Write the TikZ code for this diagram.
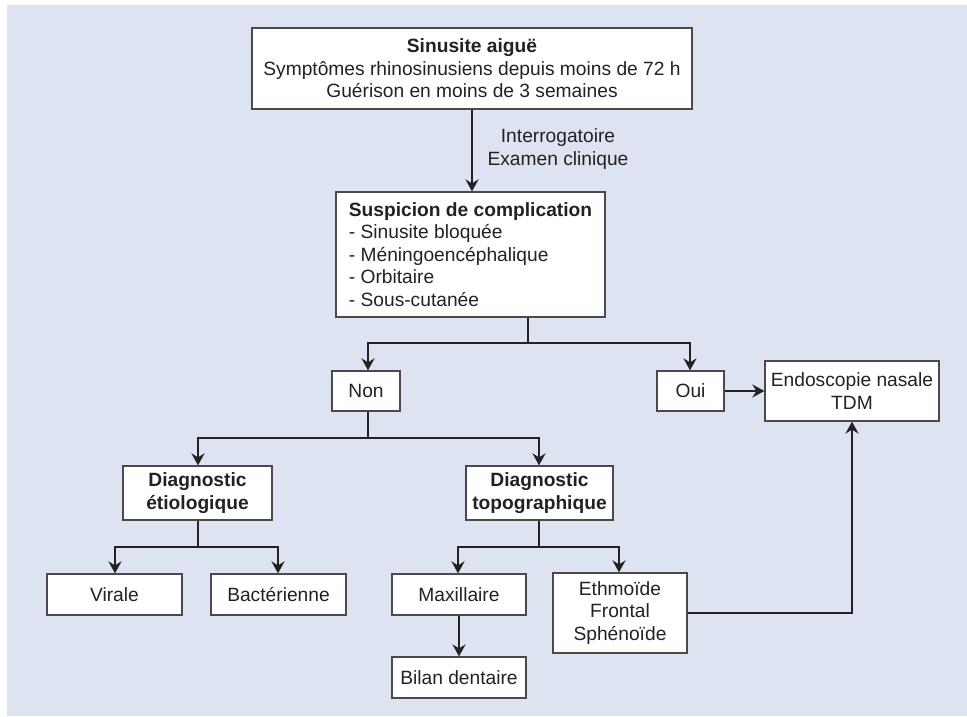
\documentclass[tikz,border=0pt]{standalone}
\usepackage{fontspec}
\setmainfont{Liberation Sans}
\usetikzlibrary{arrows.meta}
\definecolor{bgblue}{HTML}{DDE3F1}
\definecolor{ink}{HTML}{222222}
\definecolor{boxline}{HTML}{4A4A4A}
\tikzset{
  box/.style={draw=boxline, line width=1.2pt, fill=white, text=ink, align=center,
    inner sep=0pt, font=\fontsize{19.2}{22.5}\selectfont},
  conn/.style={draw=ink, line width=2pt},
  arr/.style={conn, -{Stealth[length=12pt, width=13pt, inset=4pt]}},
  lbl/.style={text=ink, align=center, font=\fontsize{19.2}{22.5}\selectfont}
}
\begin{document}
\begin{tikzpicture}[x=1pt, y=-1pt]
\useasboundingbox (0,0) rectangle (967,716);
\fill[bgblue] (7,5) rectangle (967,716);

\node[box, minimum width=440pt, minimum height=81pt] (top) at (472,68.5)
  {\textbf{Sinusite aiguë}\\Symptômes rhinosinusiens depuis moins de 72 h\\Guérison en moins de 3 semaines};
\node[box, minimum width=269pt, minimum height=125pt, align=left] (susp) at (470.5,254.5)
  {\textbf{Suspicion de complication}\\- Sinusite bloquée\\- Méningoencéphalique\\- Orbitaire\\- Sous-cutanée};
\node[box, minimum width=68pt, minimum height=40pt] (non) at (366,391) {Non};
\node[box, minimum width=67pt, minimum height=40pt] (oui) at (690.5,391) {Oui};
\node[box, minimum width=174pt, minimum height=60pt] (endo) at (852,391) {Endoscopie nasale\\TDM};
\node[box, minimum width=149pt, minimum height=54pt] (etio) at (197.5,493) {\textbf{Diagnostic}\\\textbf{étiologique}};
\node[box, minimum width=147pt, minimum height=54pt] (topo) at (539.5,493) {\textbf{Diagnostic}\\\textbf{topographique}};
\node[box, minimum width=135pt, minimum height=41pt] (virale) at (114.5,594.5) {Virale};
\node[box, minimum width=135pt, minimum height=41pt] (bact) at (278.5,594.5) {Bactérienne};
\node[box, minimum width=134pt, minimum height=41pt] (maxi) at (459,594.5) {Maxillaire};
\node[box, minimum width=134pt, minimum height=80pt] (ethmo) at (620,613) {Ethmoïde\\Frontal\\Sphénoïde};
\node[box, minimum width=134pt, minimum height=41pt] (bilan) at (459,677.5) {Bilan dentaire};

\node[lbl] (interro) at (558,149) {Interrogatoire\\Examen clinique};

% top -> suspicion
\draw[arr] (top.south) -- (top.south |- susp.north);

% suspicion -> non / oui
\coordinate (s1) at (528,343);
\coordinate (n1) at (368,343);
\coordinate (o1) at (690,343);
\draw[conn] (s1 |- susp.south) -- (s1);
\draw[arr] (s1) -- (n1) -- (n1 |- non.north);
\draw[arr] (s1) -- (o1) -- (o1 |- oui.north);

% oui -> endo
\draw[arr] (oui.east) -- (endo.west);

% non -> etio / topo
\coordinate (n2) at (368,438);
\coordinate (e2) at (198,438);
\coordinate (t2) at (539,438);
\draw[conn] (n2 |- non.south) -- (n2);
\draw[arr] (n2) -- (e2) -- (e2 |- etio.north);
\draw[arr] (n2) -- (t2) -- (t2 |- topo.north);

% etio -> virale / bact
\coordinate (e3) at (198,547);
\coordinate (v3) at (115,547);
\coordinate (b3) at (278,547);
\draw[conn] (e3 |- etio.south) -- (e3);
\draw[arr] (e3) -- (v3) -- (v3 |- virale.north);
\draw[arr] (e3) -- (b3) -- (b3 |- bact.north);

% topo -> maxi / ethmo
\coordinate (t3) at (539,547);
\coordinate (m3) at (458,547);
\coordinate (h3) at (619,547);
\draw[conn] (t3 |- topo.south) -- (t3);
\draw[arr] (t3) -- (m3) -- (m3 |- maxi.north);
\draw[arr] (t3) -- (h3) -- (h3 |- ethmo.north);

% maxi -> bilan
\draw[arr] (maxi.south) -- (bilan.north);

% ethmo -> endo
\coordinate (k4) at (852,613);
\draw[arr] (ethmo.east) -- (k4) -- (endo.south);
\end{tikzpicture}
\end{document}
